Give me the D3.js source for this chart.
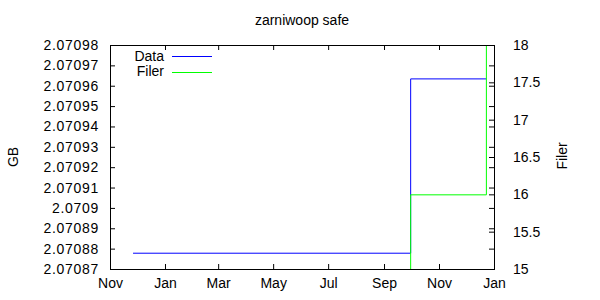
<!DOCTYPE html>
<html>
<head>
<meta charset="utf-8">
<script src="https://cdn.jsdelivr.net/npm/d3@7"></script>
<style>
  body { margin: 0; background: #fff; }
  text { font-family: "Liberation Sans", Arial, sans-serif; font-size: 14px; fill: #000; }
</style>
</head>
<body>
<script>
//Chart data
var title = "zarniwoop safe";
var dataDates = ["2010-11-26", "2011-09-30", "2011-12-23"];
var dataValues = [2.070878, 2.0709636, 2.0709636];
var filerDates = ["2010-11-26", "2011-09-30", "2011-12-23"];
var filerValues = [15, 16, 18];
var yTicks = [2.07087, 2.07088, 2.07089, 2.0709, 2.07091, 2.07092, 2.07093, 2.07094, 2.07095, 2.07096, 2.07097, 2.07098];
var y2Ticks = [15, 15.5, 16, 16.5, 17, 17.5, 18];
var xTickDates = ["2010-11-01", "2011-01-01", "2011-03-01", "2011-05-01", "2011-07-01", "2011-09-01", "2011-11-01", "2012-01-01"];

//Dimensions
var width = 600, height = 300;
var margin = {top: 45, right: 106, bottom: 31, left: 110};
var tick = 5;

var parseDate = d3.timeParse("%Y-%m-%d");

const svg = d3.select("body")
    .append("svg")
    .attr("width", width)
    .attr("height", height);

//Scales (half pixel offset so 1px lines are crisp)
const x = d3.scaleTime()
    .domain([parseDate(xTickDates[0]), parseDate(xTickDates[xTickDates.length - 1])])
    .range([margin.left + 0.5, width - margin.right + 0.5]);

const y = d3.scaleLinear()
    .domain([yTicks[0], yTicks[yTicks.length - 1]])
    .range([height - margin.bottom + 0.5, margin.top + 0.5]);

const y2 = d3.scaleLinear()
    .domain([y2Ticks[0], y2Ticks[y2Ticks.length - 1]])
    .range([height - margin.bottom + 0.5, margin.top + 0.5]);

const fmt = d => d3.format(".6~f")(d);

//Axes, ticks point inward like gnuplot
svg.append("g")
    .attr("transform", `translate(0,${height - margin.bottom})`)
    .call(d3.axisBottom(x).tickValues(xTickDates.map(parseDate)).tickFormat(d3.timeFormat("%b")).tickSize(-tick).tickPadding(9).offset(0))
    .call(g => g.select(".domain").remove());

svg.append("g")
    .attr("transform", `translate(0,${margin.top})`)
    .call(d3.axisTop(x).tickValues(xTickDates.map(parseDate)).tickFormat("").tickSize(-tick).offset(0))
    .call(g => g.select(".domain").remove());

svg.append("g")
    .attr("class", "yleft")
    .attr("transform", `translate(${margin.left},0)`)
    .call(d3.axisLeft(y).tickValues(yTicks).tickFormat(fmt).tickSize(-tick).tickPadding(11).offset(0))
    .call(g => g.select(".domain").remove());

svg.append("g")
    .attr("transform", `translate(${width - margin.right},0)`)
    .call(d3.axisRight(y).tickValues(yTicks).tickFormat("").tickSize(-tick).offset(0))
    .call(g => g.select(".domain").remove());

svg.append("g")
    .attr("transform", `translate(${width - margin.right},0)`)
    .call(d3.axisRight(y2).tickValues(y2Ticks).tickFormat(d3.format("~g")).tickSize(-tick).tickPadding(19).offset(0))
    .call(g => g.select(".domain").remove());

svg.selectAll(".tick line").attr("stroke", "#000");
svg.selectAll(".tick text").style("font-size", "14px").style("font-family", "Liberation Sans, Arial, sans-serif");
svg.selectAll(".yleft .tick text").style("letter-spacing", "0.7px");

//Lines (step after)
svg.append("clipPath").attr("id", "plot")
    .append("rect")
    .attr("x", margin.left).attr("y", margin.top)
    .attr("width", width - margin.left - margin.right + 1)
    .attr("height", height - margin.top - margin.bottom + 1);

const dataLine = d3.line()
    .x((d, i) => x(parseDate(dataDates[i])))
    .y(d => y(d))
    .curve(d3.curveStepAfter);

const filerLine = d3.line()
    .x((d, i) => x(parseDate(filerDates[i])))
    .y(d => y2(d))
    .curve(d3.curveStepAfter);

svg.append("path")
    .datum(dataValues)
    .attr("clip-path", "url(#plot)")
    .attr("fill", "none")
    .attr("stroke", "#0000ff")
    .attr("d", dataLine);

svg.append("path")
    .datum(filerValues)
    .attr("clip-path", "url(#plot)")
    .attr("fill", "none")
    .attr("stroke", "#00ff00")
    .attr("d", filerLine);

//Border in front
svg.append("rect")
    .attr("x", margin.left + 0.5)
    .attr("y", margin.top + 0.5)
    .attr("width", width - margin.left - margin.right)
    .attr("height", height - margin.top - margin.bottom)
    .attr("fill", "none")
    .attr("stroke", "#000");

//Legend
var legend = [["Data", "#0000ff"], ["Filer", "#00ff00"]];
legend.forEach(function(l, i) {
    var ly = 56 + i * 15.5;
    svg.append("text")
        .attr("x", 164).attr("y", ly)
        .attr("dy", "0.35em")
        .attr("text-anchor", "end")
        .text(l[0]);
    svg.append("line")
        .attr("x1", 172).attr("x2", 212)
        .attr("y1", Math.round(ly) + 0.5).attr("y2", Math.round(ly) + 0.5)
        .attr("stroke", l[1]);
});

//Title and axis labels
svg.append("text")
    .attr("x", 302).attr("y", 20)
    .attr("dy", "0.35em")
    .attr("text-anchor", "middle")
    .text(title);

svg.append("text")
    .attr("transform", "translate(13,157) rotate(-90)")
    .attr("dy", "0.35em")
    .attr("text-anchor", "middle")
    .text("GB");

svg.append("text")
    .attr("transform", "translate(562,156) rotate(-90)")
    .attr("dy", "0.35em")
    .attr("text-anchor", "middle")
    .text("Filer");
</script>
</body>
</html>
